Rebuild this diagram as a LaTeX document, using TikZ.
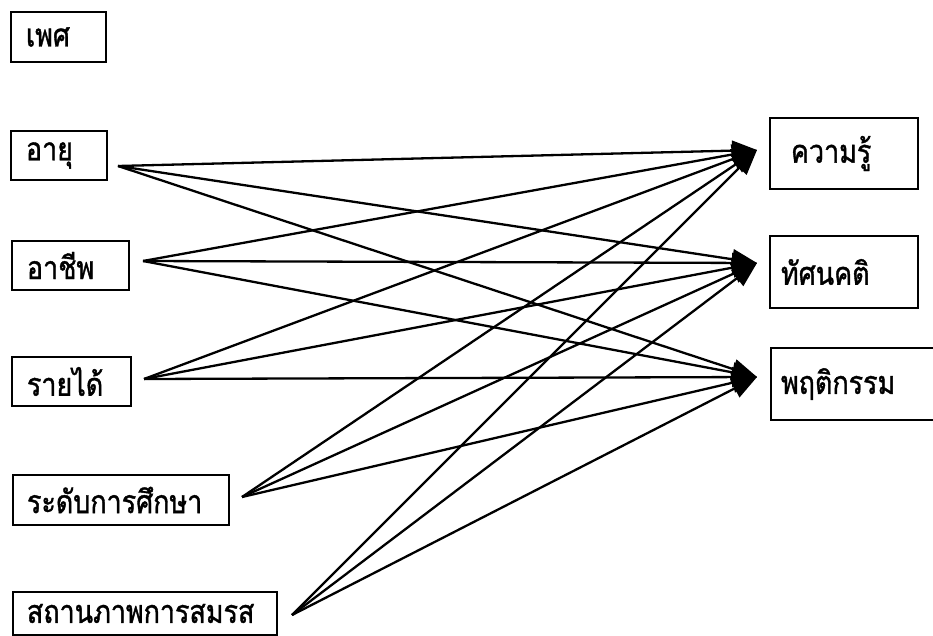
\documentclass[tikz,border=0pt]{standalone}
\usepackage{fontspec}
\newfontfamily\thaifont[Script=Thai,FakeStretch=0.84,FakeBold=1.2]{Loma}
\usetikzlibrary{arrows.meta}
\begin{document}
\begin{tikzpicture}[x=1pt,y=-1pt,
  box/.style={draw, line width=2pt, inner ysep=0pt, align=left, anchor=north west,
    font=\thaifont\fontsize{32}{36}\selectfont},
  arr/.style={line width=2.3pt, -{Triangle[length=25pt,width=20pt]}}]
\fill[white] (0,0) rectangle (933,636);
\useasboundingbox (0,0) rectangle (933,636);
% left boxes
\node[box, inner xsep=15pt, text width=65pt, minimum height=50pt] (sex) at (10,11) {เพศ};
\node[box, inner xsep=15pt, text width=66pt, minimum height=49pt] (age) at (10,130) {อายุ};
\node[box, inner xsep=15pt, text width=87pt, minimum height=49pt] (occ) at (11,240) {อาชีพ};
\node[box, inner xsep=15pt, text width=89pt, minimum height=49pt] (inc) at (11,356) {รายได้};
\node[box, inner xsep=14pt, text width=188pt, minimum height=50pt] (edu) at (12,474) {ระดับการศึกษา};
\node[box, inner xsep=14pt, text width=236pt, minimum height=43pt] (mar) at (12,591) {สถานภาพการสมรส};
% right boxes
\node[box, inner xsep=21pt, text width=106pt, minimum height=71pt] (know) at (769,117) {ความรู้};
\node[box, inner xsep=11pt, text width=126pt, minimum height=72pt] (att) at (769,235) {ทัศนคติ};
\node[box, inner xsep=10pt, text width=155pt, minimum height=72pt] (beh) at (770,347) {พฤติกรรม};
% connector ends
\coordinate (sAge) at (118,166);
\coordinate (sOcc) at (143,261);
\coordinate (sInc) at (144,379);
\coordinate (sEdu) at (242,497);
\coordinate (sMar) at (292,615);
\coordinate (tK) at (757,150);
\coordinate (tA) at (757,263);
\coordinate (tB) at (757,377);
% arrows
\foreach \s in {sAge,sOcc,sInc,sEdu,sMar}{
  \foreach \t in {tK,tA,tB}{
    \draw[arr] (\s) -- (\t);
  }
}
\end{tikzpicture}
\end{document}
